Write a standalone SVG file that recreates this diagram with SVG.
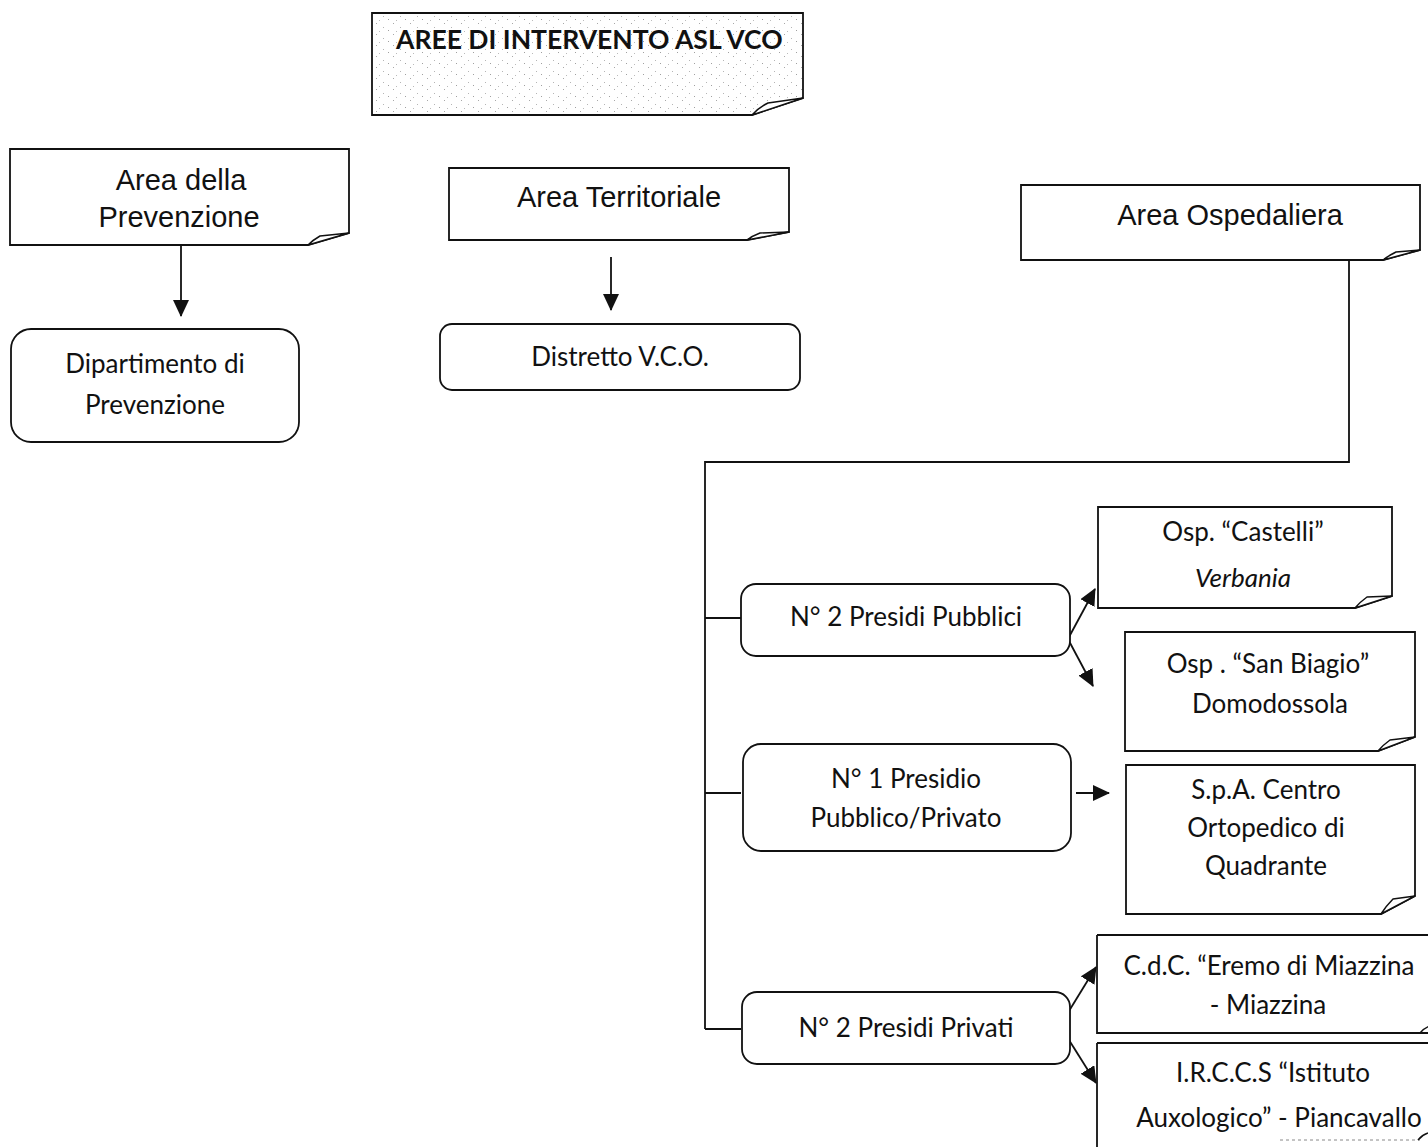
<svg xmlns="http://www.w3.org/2000/svg" width="1428" height="1147" viewBox="0 0 1428 1147">
<style>
.box{fill:#fff;stroke:#111;stroke-width:1.8}
.fold{fill:#fff;stroke:#111;stroke-width:1.5;stroke-linejoin:round}
.ar{font-family:"Liberation Sans",Arial,sans-serif;font-size:29px;fill:#111;text-anchor:middle}
.ca{font-family:Lato,"Open Sans",sans-serif;font-size:26px;fill:#111;text-anchor:middle}
.ti{font-family:Lato,"Open Sans",sans-serif;font-size:26.5px;font-weight:bold;fill:#111}
.ln{fill:none;stroke:#111;stroke-width:1.8}
</style>
<defs>
<marker id="ah" markerUnits="userSpaceOnUse" markerWidth="18" markerHeight="16" refX="16" refY="8" orient="auto">
<path d="M0,0 L17,8 L0,16 Z" fill="#111"/>
</marker>
<pattern id="dots" width="17" height="11" patternUnits="userSpaceOnUse">
<rect x="2" y="1" width="1" height="1" fill="#a8a8a8"/>
<rect x="9" y="5" width="1" height="1" fill="#b5b5b5"/>
<rect x="14" y="8" width="1" height="1" fill="#a0a0a0"/>
<rect x="5" y="9" width="1" height="1" fill="#bbbbbb"/>
</pattern>
</defs>
<rect width="1428" height="1147" fill="#fff"/>

<g id="connectors">
<line class="ln" x1="181" y1="245" x2="181" y2="316" marker-end="url(#ah)"/>
<line class="ln" x1="611" y1="257" x2="611" y2="310" marker-end="url(#ah)"/>
<polyline class="ln" points="1349,260 1349,462 705,462 705,1029"/>
<line class="ln" x1="705" y1="618" x2="741" y2="618"/>
<line class="ln" x1="705" y1="793" x2="741" y2="793"/>
<line class="ln" x1="705" y1="1029" x2="741" y2="1029"/>
<line class="ln" x1="1069" y1="637" x2="1095" y2="589" marker-end="url(#ah)"/>
<line class="ln" x1="1069" y1="641" x2="1093" y2="686" marker-end="url(#ah)"/>
<line class="ln" x1="1076" y1="793" x2="1109" y2="793" marker-end="url(#ah)"/>
<line class="ln" x1="1069" y1="1011" x2="1096" y2="967" marker-end="url(#ah)"/>
<line class="ln" x1="1069" y1="1040" x2="1096" y2="1083" marker-end="url(#ah)"/>
</g>

<g id="title">
<path class="box" d="M372,13 H803 V98 L752,115 H372 Z"/>
<path d="M372,13 H803 V98 L752,115 H372 Z" fill="url(#dots)"/>
<path class="fold" d="M803,98 L768,103 Q758,108 752,115 Z"/>
<text class="ti" x="396" y="49">AREE DI INTERVENTO ASL VCO</text>
</g>

<g id="area-prevenzione">
<path class="box" d="M10,149 H349 V233 L308,245 H10 Z"/>
<path class="fold" d="M349,233 L320,236 Q313,240 308,245 Z"/>
<text class="ar" x="181" y="190">Area della</text>
<text class="ar" x="179" y="227">Prevenzione</text>
</g>

<g id="dipartimento">
<rect class="box" x="11" y="329" width="288" height="113" rx="20"/>
<text class="ca" x="155" y="373">Dipartimento di</text>
<text class="ca" x="155" y="414">Prevenzione</text>
</g>

<g id="area-territoriale">
<path class="box" d="M449,168 H789 V232 L747,240 H449 Z"/>
<path class="fold" d="M789,232 L760,233 Q752,236 747,240 Z"/>
<text class="ar" x="619" y="207">Area Territoriale</text>
</g>

<g id="distretto">
<rect class="box" x="440" y="324" width="360" height="66" rx="12"/>
<text class="ca" x="620" y="366">Distretto V.C.O.</text>
</g>

<g id="area-ospedaliera">
<path class="box" d="M1021,185 H1420 V250 L1383,260 H1021 Z"/>
<path class="fold" d="M1420,250 L1396,252 Q1388,256 1383,260 Z"/>
<text class="ar" x="1230" y="225">Area Ospedaliera</text>
</g>

<g id="presidi-pubblici">
<rect class="box" x="741" y="584" width="329" height="72" rx="15"/>
<text class="ca" x="906" y="626">N° 2 Presidi Pubblici</text>
</g>

<g id="presidio-pubblico-privato">
<rect class="box" x="743" y="744" width="328" height="107" rx="18"/>
<text class="ca" x="906" y="788">N° 1 Presidio</text>
<text class="ca" x="906" y="827">Pubblico/Privato</text>
</g>

<g id="presidi-privati">
<rect class="box" x="742" y="992" width="328" height="72" rx="15"/>
<text class="ca" x="906" y="1037">N° 2 Presidi Privati</text>
</g>

<g id="castelli">
<path class="box" d="M1098,507 H1392 V596 L1355,608 H1098 Z"/>
<path class="fold" d="M1392,596 L1367,597 Q1360,602 1355,608 Z"/>
<text class="ca" x="1243" y="541">Osp. “Castelli”</text>
<text class="ca" x="1243" y="587" font-style="italic">Verbania</text>
</g>

<g id="san-biagio">
<path class="box" d="M1125,632 H1415 V737 L1378,751 H1125 Z"/>
<path class="fold" d="M1415,737 L1390,740 Q1383,745 1378,751 Z"/>
<text class="ca" x="1268" y="673">Osp . “San Biagio”</text>
<text class="ca" x="1270" y="713">Domodossola</text>
</g>

<g id="centro-ortopedico">
<path class="box" d="M1126,765 H1415 V896 L1381,914 H1126 Z"/>
<path class="fold" d="M1415,896 L1393,899 Q1386,906 1381,914 Z"/>
<text class="ca" x="1266" y="799" font-size="19">S.p.A. Centro</text>
<text class="ca" x="1266" y="837" font-size="19">Ortopedico di</text>
<text class="ca" x="1266" y="875" font-size="19">Quadrante</text>
</g>

<g id="eremo-miazzina">
<path class="box" d="M1097,935 H1430 M1097,935 V1033 H1430"/>
<path class="fold" d="M1420,1033 Q1424,1028 1430,1026"/>
<text class="ca" x="1269" y="975" font-size="27">C.d.C. “Eremo di Miazzina</text>
<text class="ca" x="1268" y="1014" font-size="27">- Miazzina</text>
</g>

<g id="auxologico">
<path class="box" d="M1097,1043 H1430 M1097,1043 V1147"/>
<path class="ln" d="M1280,1140 H1420" style="stroke:#888;stroke-width:1;stroke-dasharray:3 3"/>
<path class="fold" d="M1418,1140 Q1422,1135 1428,1133"/>
<text class="ca" x="1273" y="1082" font-size="26.5">I.R.C.C.S “Istituto</text>
<text class="ca" x="1279" y="1127" font-size="26.5">Auxologico” - Piancavallo</text>
</g>
</svg>
